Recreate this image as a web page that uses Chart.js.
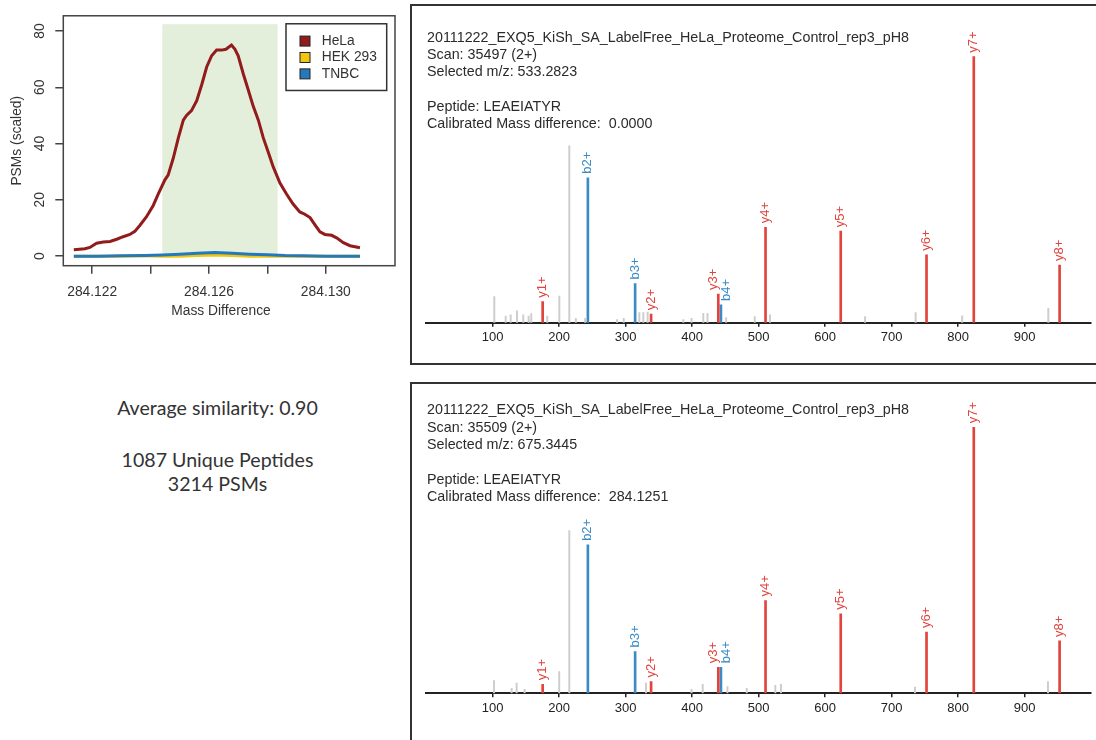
<!DOCTYPE html>
<html>
<head>
<meta charset="utf-8">
<title>PSM mass difference and annotated spectra</title>
<script src="https://cdn.jsdelivr.net/npm/chart.js@4.4.1/dist/chart.umd.min.js"></script>
<style>
  body { margin: 0; background: #fff; width: 1096px; height: 740px; overflow: hidden; position: relative;
         font-family: "Liberation Sans", Arial, sans-serif; }
  canvas { position: absolute; }
  .panel { position: absolute; border: 2px solid #333; box-sizing: border-box; }
  .info { position: absolute; left: 427px; font-size: 14.3px; line-height: 17.3px; color: #2b2b2b; white-space: pre; }
  .summary { position: absolute; left: 60px; width: 315px; text-align: center; font-family: Lato, "Open Sans", sans-serif;
             font-size: 19.6px; line-height: 24px; color: #333; }
  .xtitle { position: absolute; left: 121px; width: 200px; top: 302px; text-align: center; font-size: 13.8px;
            line-height: 17px; color: #333; }
</style>
</head>
<body>

<canvas id="psm" width="400" height="330" style="left:0;top:0"></canvas>
<div class="xtitle">Mass Difference</div>

<div class="summary" style="top:396px">Average similarity: 0.90</div>
<div class="summary" style="top:448px">1087 Unique Peptides</div>
<div class="summary" style="top:472px">3214 PSMs</div>

<div class="panel" style="left:410px;top:4px;width:720px;height:361px"></div>
<canvas id="specTop" width="684" height="356" style="left:412px;top:7px"></canvas>
<div class="info" style="top:28.7px">20111222_EXQ5_KiSh_SA_LabelFree_HeLa_Proteome_Control_rep3_pH8
Scan: 35497 (2+)
Selected m/z: 533.2823

Peptide: LEAEIATYR
Calibrated Mass difference:  0.0000</div>

<div class="panel" style="left:410px;top:382px;width:720px;height:400px"></div>
<canvas id="specBottom" width="684" height="355" style="left:412px;top:385px"></canvas>
<div class="info" style="top:401.4px">20111222_EXQ5_KiSh_SA_LabelFree_HeLa_Proteome_Control_rep3_pH8
Scan: 35509 (2+)
Selected m/z: 675.3445

Peptide: LEAEIATYR
Calibrated Mass difference:  284.1251</div>

<script>
// ---- PSM counts vs mass difference ----
const massDiff = [284.12137, 284.12175, 284.12192, 284.12215, 284.12238, 284.12261, 284.12284, 284.12306,
  284.12329, 284.12346, 284.12363, 284.12386, 284.12409, 284.12426, 284.12449, 284.12460, 284.12477,
  284.12495, 284.12512, 284.12523, 284.12540, 284.12558, 284.12575, 284.12592, 284.12609, 284.12626,
  284.12643, 284.12658, 284.12677, 284.12689, 284.12700, 284.12717, 284.12734, 284.12751, 284.12769,
  284.12786, 284.12803, 284.12820, 284.12843, 284.12866, 284.12888, 284.12911, 284.12928, 284.12946,
  284.12963, 284.12980, 284.12997, 284.13020, 284.13037, 284.13060, 284.13083, 284.13117];
const helaPSMs = [2.3, 2.6, 3.1, 4.6, 5.0, 5.2, 6.0, 6.9, 7.7, 8.8, 10.9, 14.0, 18.0, 22.0, 27.1, 28.8,
  34.6, 42.0, 48.3, 50.0, 51.7, 55.2, 60.9, 67.2, 71.2, 73.2, 73.2, 73.5, 75.0, 73.5, 71.2, 64.9, 59.2,
  53.4, 48.3, 42.0, 36.9, 31.7, 26.0, 22.0, 18.5, 15.7, 14.9, 13.7, 11.1, 8.6, 7.7, 7.4, 6.5, 4.8, 3.7, 3.0];
const otherMass = [284.12137, 284.1222, 284.1230, 284.1238, 284.1244, 284.1250, 284.1256, 284.1262,
  284.1268, 284.1274, 284.1280, 284.1286, 284.1292, 284.1300, 284.13117];
const hekPSMs  = [0.0, 0.0, 0.0, 0.1, 0.0, 0.0, 0.2, 0.4, 0.2, 0.0, 0.0, 0.0, 0.0, 0.0, 0.0];
const tnbcPSMs = [0.0, 0.0, 0.1, 0.2, 0.4, 0.7, 1.0, 1.3, 1.0, 0.7, 0.5, 0.2, 0.1, 0.0, 0.0];
const cellLines = ['HeLa', 'HEK 293', 'TNBC'];
const massTicks = [284.122, 284.124, 284.126, 284.128, 284.130];
const massTickLabels = ['284.122', '', '284.126', '', '284.130'];
const psmTicks = [0, 20, 40, 60, 80];
// accepted window
const windowLo = 284.1244, windowHi = 284.12835, windowTop = 82.4;

// ---- spectra: annotated fragment ions ----
const ionNames = ['y1+', 'b2+', 'b3+', 'y2+', 'y3+', 'b4+', 'y4+', 'y5+', 'y6+', 'y7+', 'y8+'];
const ionSeries = ['y', 'b', 'b', 'y', 'y', 'b', 'y', 'y', 'y', 'y', 'y'];
const ionMz = [175.12, 243.13, 314.17, 338.18, 439.23, 443.21, 510.27, 623.35, 752.39, 823.43, 952.47];
const ionIntTop = [7.9, 54.5, 14.7, 3.2, 10.8, 6.7, 35.9, 34.4, 25.5, 100, 21.7];
const ionIntBottom = [3.4, 55.8, 15.7, 4.4, 9.8, 9.8, 34.9, 29.9, 23.0, 100, 19.7];
// unannotated peaks
const peakMzTop = [102.4, 119.5, 127, 136.5, 146, 154, 158, 182, 200.2, 215.2, 225, 239, 287, 297,
  320.5, 326.5, 333, 386.7, 399, 416.7, 423, 451, 494, 517, 660, 736, 806, 935.5];
const peakIntTop = [9.8, 2.5, 3.0, 4.5, 3.0, 2.5, 3.4, 2.5, 10.0, 66.5, 1.6, 1.6, 1.2, 1.6,
  3.8, 3.8, 4.0, 1.2, 1.6, 3.5, 3.5, 1.9, 2.3, 3.0, 2.3, 3.8, 2.6, 5.4];
const peakMzBottom = [102, 128.5, 136, 148, 200, 215.2, 330.5, 399, 415.8, 453, 482, 525, 533.5, 735, 935];
const peakIntBottom = [4.8, 1.9, 3.8, 1.5, 8.2, 61.2, 3.8, 1.5, 3.4, 2.5, 1.9, 3.0, 3.4, 2.3, 4.4];
const mzTicks = [100, 200, 300, 400, 500, 600, 700, 800, 900];

const lineColors = { 'HeLa': '#921b1b', 'HEK 293': '#f2c511', 'TNBC': '#2479bd' };
const ionColors = { y: '#e0443c', b: '#3a8cc6' };
const axisFont = { family: 'Liberation Sans', size: 13.8 };

const pts = (xs, ys) => xs.map((x, i) => ({ x: x, y: ys[i] }));

// green band behind the curves
const windowShade = {
  id: 'windowShade',
  beforeDatasetsDraw(chart) {
    const { ctx, scales: { x, y } } = chart;
    const l = x.getPixelForValue(windowLo), r = x.getPixelForValue(windowHi);
    const t = y.getPixelForValue(windowTop), b = y.getPixelForValue(0);
    ctx.save();
    ctx.fillStyle = '#e3eedb';
    ctx.fillRect(l, t, r - l, b - t);
    ctx.restore();
  }
};

// R style box round the plot region
const plotBox = {
  id: 'plotBox',
  afterDraw(chart) {
    const { ctx, chartArea: a } = chart;
    ctx.save();
    ctx.strokeStyle = '#444';
    ctx.lineWidth = 1.5;
    ctx.strokeRect(a.left, a.top, a.right - a.left, a.bottom - a.top);
    ctx.restore();
  }
};

// legend box in the top right corner of the plot
const boxLegend = {
  id: 'boxLegend',
  afterDraw(chart) {
    const { ctx, chartArea: a } = chart;
    const bx = a.right - 109, by = a.top + 8;
    ctx.save();
    ctx.fillStyle = '#fff';
    ctx.fillRect(bx, by, 100.7, 66.7);
    ctx.strokeStyle = '#333';
    ctx.lineWidth = 1.5;
    ctx.strokeRect(bx, by, 100.7, 66.7);
    ctx.font = '13.8px "Liberation Sans"';
    ctx.textBaseline = 'middle';
    cellLines.forEach((name, i) => {
      const cy = by + 17.3 + i * 16.4;
      ctx.fillStyle = lineColors[name];
      ctx.fillRect(bx + 14, cy - 5, 10, 10);
      ctx.lineWidth = 1;
      ctx.strokeStyle = '#222';
      ctx.strokeRect(bx + 14, cy - 5, 10, 10);
      ctx.fillStyle = '#333';
      ctx.fillText(name, bx + 35.7, cy);
    });
    ctx.restore();
  }
};

new Chart(document.getElementById('psm'), {
  type: 'line',
  data: {
    datasets: [
      { label: 'HeLa', data: pts(massDiff, helaPSMs), borderColor: lineColors['HeLa'], order: 0 },
      { label: 'HEK 293', data: pts(otherMass, hekPSMs), borderColor: lineColors['HEK 293'], order: 2 },
      { label: 'TNBC', data: pts(otherMass, tnbcPSMs), borderColor: lineColors['TNBC'], order: 1 }
    ]
  },
  options: {
    responsive: false,
    animation: false,
    elements: { line: { borderWidth: 3, tension: 0 }, point: { radius: 0 } },
    layout: { padding: { top: 7, right: 5, left: 0, bottom: 0 } },
    plugins: { legend: { display: false }, tooltip: { enabled: false } },
    scales: {
      x: {
        type: 'linear', min: 284.12101, max: 284.13237,
        afterBuildTicks: s => { s.ticks = massTicks.map(v => ({ value: v })); },
        afterFit: s => { s.height = 64.3; },
        grid: { drawOnChartArea: false, tickLength: 8, color: '#444', lineWidth: 1.5 },
        border: { display: false },
        ticks: { callback: (v, i) => massTickLabels[i], font: axisFont, color: '#333', padding: 10,
                 maxRotation: 0, autoSkip: false }
      },
      y: {
        min: -3.4, max: 85.4,
        afterBuildTicks: s => { s.ticks = psmTicks.map(v => ({ value: v })); },
        afterFit: s => { s.width = 63.3; },
        grid: { drawOnChartArea: false, tickLength: 8, color: '#444', lineWidth: 1.5 },
        border: { display: false },
        ticks: { minRotation: 90, maxRotation: 90, crossAlign: 'center', padding: 7.5, font: axisFont, color: '#333' },
        title: { display: true, text: 'PSMs (scaled)', font: axisFont, color: '#333', padding: { top: 9, bottom: 0 } }
      }
    }
  },
  plugins: [windowShade, plotBox, boxLegend]
});

// rotated ion names over the annotated peaks, nudged apart when they collide
const ionLabels = {
  id: 'ionLabels',
  afterDatasetsDraw(chart) {
    const ctx = chart.ctx;
    const items = [];
    chart.data.datasets.forEach((ds, i) => {
      if (!ds.ionLabels) return;
      chart.getDatasetMeta(i).data.forEach((bar, j) => {
        items.push({ x: bar.x, lx: bar.x, y: bar.y, text: ds.ionLabels[j], color: ds.backgroundColor });
      });
    });
    items.sort((a, b) => a.x - b.x);
    const gap = 13;
    for (let k = 1; k < items.length; k++) {
      const d = items[k].lx - items[k - 1].lx;
      if (d < gap) {
        const s = (gap - d) / 2;
        items[k - 1].lx -= s;
        items[k].lx += s;
      }
    }
    ctx.save();
    ctx.font = '13px "Liberation Sans"';
    ctx.textAlign = 'left';
    ctx.textBaseline = 'middle';
    items.forEach(it => {
      ctx.save();
      ctx.translate(it.lx, it.y - 4);
      ctx.rotate(-Math.PI / 2);
      ctx.fillStyle = it.color;
      ctx.fillText(it.text, 0, 0);
      ctx.restore();
    });
    ctx.restore();
  }
};

function drawSpectrum(id, peakMz, peakInt, ionInt, padTop, axisHeight) {
  const series = s => {
    const idx = ionSeries.map((t, i) => t === s ? i : -1).filter(i => i >= 0);
    return {
      label: s + ' ions',
      data: idx.map(i => ({ x: ionMz[i], y: ionInt[i] })),
      ionLabels: idx.map(i => ionNames[i]),
      backgroundColor: ionColors[s],
      barThickness: 2,
      grouped: false
    };
  };
  new Chart(document.getElementById(id), {
    type: 'bar',
    data: {
      datasets: [
        { label: 'peaks', data: pts(peakMz, peakInt), backgroundColor: '#cdcdcd', barThickness: 1.3, grouped: false },
        series('y'),
        series('b')
      ]
    },
    options: {
      responsive: false,
      animation: false,
      layout: { padding: { top: padTop, left: 14.2, right: 4.8, bottom: 0 } },
      plugins: { legend: { display: false }, tooltip: { enabled: false } },
      scales: {
        x: {
          type: 'linear', min: 0, max: 1000, offset: false,
          afterBuildTicks: s => { s.ticks = mzTicks.map(v => ({ value: v })); },
          afterFit: s => { s.height = axisHeight; },
          grid: { drawOnChartArea: false, tickLength: 4, color: '#222', lineWidth: 1.5, offset: false },
          border: { display: true, color: '#222', width: 2 },
          ticks: { font: { family: 'Liberation Sans', size: 13 }, color: '#222', padding: 3, maxRotation: 0, autoSkip: false }
        },
        y: { display: false, min: 0, max: 110 }
      }
    },
    plugins: [ionLabels]
  });
}

drawSpectrum('specTop', peakMzTop, peakIntTop, ionIntTop, 23.1, 40.3);
drawSpectrum('specBottom', peakMzBottom, peakIntBottom, ionIntBottom, 15.7, 46.7);
</script>
</body>
</html>
